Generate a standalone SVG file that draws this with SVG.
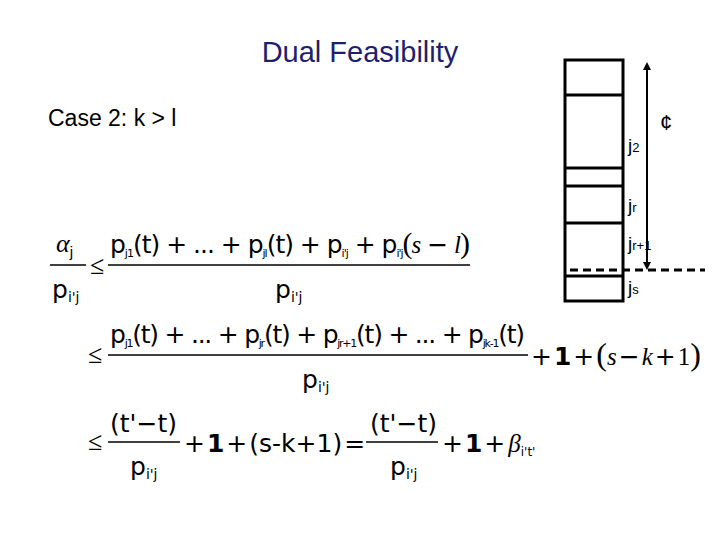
<svg xmlns="http://www.w3.org/2000/svg" width="720" height="540" viewBox="0 0 720 540">
<style>
.s{font-family:"Liberation Sans",Arial,sans-serif}
.m{font-family:"DejaVu Sans","Liberation Sans",sans-serif;font-size:25px}
.sr{font-family:"Liberation Serif","Times New Roman",serif;font-size:26px}
.b{stroke:#000;stroke-width:3;fill:none}
.f{stroke:#000;stroke-width:1.3}
</style>
<defs><marker id="ah" viewBox="0 0 10 10" refX="5" refY="5" markerWidth="4" markerHeight="4" orient="auto-start-reverse"><path d="M0,0L10,5L0,10z"/></marker></defs>
<rect width="720" height="540" fill="#fff"/>
<text class="s" x="360" y="62" font-size="29" fill="#1f1f6e" text-anchor="middle">Dual Feasibility</text>
<text class="s" x="48" y="126" font-size="23">Case 2: k &gt; l</text>
<g id="stack">
<rect class="b" x="565" y="60" width="58" height="241"/>
<path class="b" d="M565 95H623M565 168H623M565 186H623M565 223H623M565 276H623"/>
<text class="s" x="628" y="152" font-size="19">j<tspan font-size="13">2</tspan></text>
<text class="s" x="628" y="212" font-size="19">j<tspan font-size="13">r</tspan></text>
<text class="s" x="628" y="250" font-size="19">j<tspan font-size="13">r+1</tspan></text>
<text class="s" x="628" y="294" font-size="19">j<tspan font-size="13">s</tspan></text>
<text class="s" x="660" y="130" font-size="22">¢</text>
</g>
<g id="connectors">
<line x1="647" y1="66" x2="647" y2="266" stroke="#000" stroke-width="2" marker-start="url(#ah)" marker-end="url(#ah)"/>
<line x1="570" y1="270" x2="705" y2="270" stroke="#000" stroke-width="3" stroke-dasharray="8,5"/>
</g>
<g id="eq1">
<text class="sr" x="56" y="252" font-style="italic" font-size="22">α<tspan font-style="normal" font-size="15" dy="5" font-family="Liberation Sans">j</tspan></text>
<line class="f" x1="50" y1="265" x2="86" y2="265"/>
<text class="m" x="52" y="298">p<tspan font-size="14" dy="4">i'j</tspan></text>
<text class="sr" x="90" y="274" font-size="20">≤</text>
<text class="m" x="110" y="253" textLength="360" lengthAdjust="spacing">p<tspan font-size="11" dy="4">j1</tspan><tspan dy="-4">(t)</tspan> + ... + p<tspan font-size="11" dy="4">jl</tspan><tspan dy="-4">(t)</tspan> + p<tspan font-size="11" dy="4">i'j</tspan><tspan dy="-4"> + </tspan>p<tspan font-size="11" dy="4">i'j</tspan><tspan dy="-4" font-family="Liberation Serif" font-size="30">(</tspan><tspan font-family="Liberation Serif" font-style="italic">s</tspan> − <tspan font-family="Liberation Serif" font-style="italic">l</tspan><tspan font-family="Liberation Serif" font-size="30">)</tspan></text>
<line class="f" x1="108" y1="265" x2="470" y2="265"/>
<text class="m" x="275" y="298">p<tspan font-size="14" dy="4">i'j</tspan></text>
</g>
<g id="eq2">
<text class="sr" x="88" y="363" font-size="20">≤</text>
<text class="m" x="110" y="343" textLength="415" lengthAdjust="spacing">p<tspan font-size="11" dy="4">j1</tspan><tspan dy="-4">(t)</tspan> + ... + p<tspan font-size="11" dy="4">jr</tspan><tspan dy="-4">(t)</tspan> + p<tspan font-size="11" dy="4">jr+1</tspan><tspan dy="-4">(t)</tspan> + ... + p<tspan font-size="11" dy="4">jk-1</tspan><tspan dy="-4">(t)</tspan></text>
<line class="f" x1="108" y1="355" x2="528" y2="355"/>
<text class="m" x="302" y="388">p<tspan font-size="14" dy="4">i'j</tspan></text>
<text class="m" x="531" y="365">+<tspan font-weight="bold" dx="2">1</tspan><tspan dx="2">+</tspan><tspan font-family="Liberation Serif" font-size="32" dx="2">(</tspan><tspan font-family="Liberation Serif" font-style="italic">s</tspan><tspan dx="2">−</tspan><tspan font-family="Liberation Serif" font-style="italic" dx="2">k</tspan><tspan dx="2">+</tspan><tspan font-family="Liberation Serif" dx="2">1</tspan><tspan font-family="Liberation Serif" font-size="32">)</tspan></text>
</g>
<g id="eq3">
<text class="sr" x="88" y="450" font-size="20">≤</text>
<text class="m" x="110" y="432">(t'−t)</text>
<line class="f" x1="108" y1="442" x2="180" y2="442"/>
<text class="m" x="130" y="475">p<tspan font-size="14" dy="4">i'j</tspan></text>
<text class="m" x="184" y="452">+<tspan font-weight="bold" dx="2">1</tspan><tspan dx="2">+</tspan><tspan dx="2">(s-k+1)</tspan><tspan dx="2">=</tspan></text>
<text class="m" x="370" y="432">(t'−t)</text>
<line class="f" x1="366" y1="442" x2="438" y2="442"/>
<text class="m" x="390" y="475">p<tspan font-size="14" dy="4">i'j</tspan></text>
<text class="m" x="442" y="452">+<tspan font-weight="bold" dx="2">1</tspan><tspan dx="2">+</tspan><tspan font-family="Liberation Serif" font-style="italic" dx="3">β</tspan><tspan font-size="12" dy="4">i't'</tspan></text>
</g>
</svg>
